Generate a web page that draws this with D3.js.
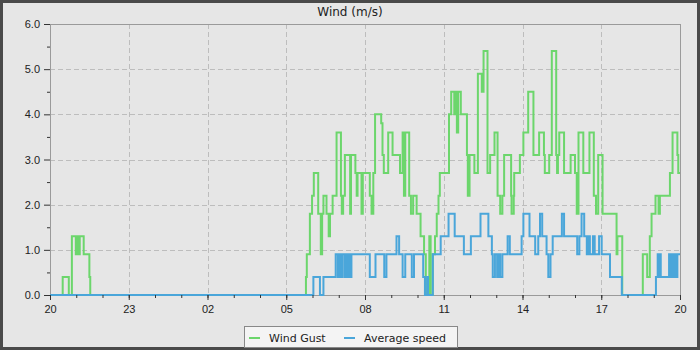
<!DOCTYPE html>
<html>
<head>
<meta charset="utf-8">
<script src="https://cdn.jsdelivr.net/npm/d3@7.9.0/dist/d3.min.js"></script>
<style>
  body { margin: 0; background: #fff; }
  svg { display: block; font-family: 'DejaVu Sans', sans-serif; }
</style>
</head>
<body>
<div id="chart"></div>
<script>
// wind gust, m/s (step values, each holds until the next time)
const gustTimes = [
  '20:00', '20:29', '20:43', '20:50', '20:59', '21:02', '21:04', '21:08', '21:17', '21:30', '21:32',
  '05:45', '05:47', '05:54', '05:59', '06:03', '06:13', '06:19', '06:22', '06:25', '06:32', '06:37',
  '06:40', '06:46', '06:55', '07:05', '07:07', '07:10', '07:14', '07:26', '07:28', '07:38', '07:41',
  '07:43', '07:52', '07:55', '08:11', '08:15', '08:19', '08:23', '08:37', '08:40', '08:43', '08:53',
  '09:03', '09:20', '09:26', '09:29', '09:32', '09:41', '09:45', '09:50', '09:58', '10:07', '10:15',
  '10:19', '10:27', '10:30', '10:35', '10:40', '10:44', '10:48', '10:51', '11:12', '11:17', '11:24',
  '11:26', '11:30', '11:33', '11:39', '11:53', '11:55', '11:59', '12:10', '12:18', '12:27', '12:31',
  '12:40', '12:46', '12:56', '13:03', '13:09', '13:14', '13:18', '13:34', '13:35', '13:40', '13:41',
  '13:54', '14:02', '14:13', '14:25', '14:38', '14:49', '14:51', '15:01', '15:07', '15:17', '15:19',
  '15:21', '15:24', '15:35', '15:50', '16:00', '16:04', '16:08', '16:19', '16:33', '16:43', '16:48',
  '16:53', '17:03', '17:35', '17:37', '17:48', '18:35', '18:45', '18:51', '18:55', '19:04', '19:11',
  '19:14', '19:37', '19:43', '19:54', '19:56'
];
const gustValues = [
  0, 0.4, 0, 1.3, 0.9, 1.3, 0.9, 1.3, 0.9, 0.4, 0,
  0.4, 0.9, 1.8, 2.2, 2.7, 1.8, 0.9, 1.8, 2.2, 1.8, 1.3,
  1.8, 2.2, 3.6, 2.2, 1.8, 2.2, 3.1, 1.8, 3.1, 2.7, 2.2,
  2.7, 1.8, 2.7, 2.2, 1.8, 2.7, 4.0, 3.8, 3.1, 2.7, 3.6,
  3.1, 2.7, 3.6, 2.2, 3.6, 2.2, 1.8, 2.2, 1.8, 1.3, 0.9,
  0, 1.3, 0, 0.9, 1.3, 1.8, 2.2, 2.7, 4.0, 4.5, 4.0,
  4.5, 3.6, 4.5, 4.0, 3.1, 2.2, 3.1, 2.7, 4.9, 4.5, 5.4,
  2.7, 3.1, 3.6, 2.2, 1.8, 2.2, 3.1, 2.2, 1.8, 2.2, 2.7,
  3.1, 3.6, 4.5, 3.1, 3.6, 3.1, 2.7, 3.1, 5.4, 3.1, 2.7,
  3.1, 3.6, 2.7, 3.1, 2.7, 1.8, 3.6, 2.7, 3.6, 2.2, 1.8,
  3.1, 1.8, 0.9, 1.3, 0, 0.9, 0.4, 1.3, 1.8, 2.2, 1.8,
  2.2, 2.7, 3.6, 3.1, 2.7
];

// average speed, m/s
const avgTimes = [
  '20:00', '06:02', '06:17', '06:25', '06:53', '06:58', '07:01', '07:05', '07:09', '07:14', '07:17',
  '07:19', '07:22', '07:26', '07:29', '08:11', '08:24', '08:44', '08:49', '09:12', '09:18', '09:26',
  '09:32', '09:47', '09:52', '10:13', '10:17', '10:22', '10:24', '10:35', '10:53', '11:11', '11:25',
  '11:46', '12:02', '12:24', '12:42', '12:50', '12:52', '12:57', '13:02', '13:06', '13:09', '13:14',
  '13:26', '13:31', '13:58', '14:02', '14:16', '14:29', '14:36', '14:40', '14:45', '14:55', '14:59',
  '15:04', '15:09', '15:30', '15:35', '16:05', '16:10', '16:15', '16:21', '16:27', '16:30', '16:34',
  '16:41', '16:45', '16:55', '17:01', '17:20', '17:47', '19:05', '19:09', '19:12', '19:13', '19:16',
  '19:35', '19:38', '19:42', '19:45', '19:49', '19:51', '19:54'
];
const avgValues = [
  0, 0.4, 0, 0.4, 0.9, 0.4, 0.9, 0.4, 0.9, 0.4, 0.9,
  0.4, 0.9, 0.4, 0.9, 0.4, 0.9, 0.4, 0.9, 1.3, 0.9, 0.4,
  0.9, 0.4, 0.9, 0.4, 0, 0.4, 0, 0.9, 1.3, 1.8, 1.3,
  0.9, 1.3, 1.8, 1.3, 0.9, 0.4, 0.9, 0.4, 0.9, 0.4, 0.9,
  1.3, 0.9, 1.3, 1.8, 1.3, 0.9, 1.3, 1.8, 1.3, 0.9, 0.4,
  0.9, 1.3, 1.8, 1.3, 0.9, 1.3, 1.8, 1.3, 0.9, 1.3, 0.9,
  1.3, 0.9, 1.3, 0.9, 0.4, 0, 0.4, 0.9, 0.4, 0.9, 0.4,
  0.9, 0.4, 0.9, 0.4, 0.9, 0.4, 0.9
];

const yTicks = [0, 1, 2, 3, 4, 5, 6];
const xTickLabels = ['20', '23', '02', '05', '08', '11', '14', '17', '20'];
const title = 'Wind (m/s)';
const seriesNames = ['Wind Gust', 'Average speed'];

const width = 700;
const height = 350;
const margin = { top: 24, right: 20, bottom: 55, left: 50 };

const start = new Date(2024, 0, 1, 20, 0);
const end = new Date(2024, 0, 2, 20, 0);

// times before 20:00 belong to the next day
function toDate(s) {
  const [h, m] = s.split(':').map(Number);
  const d = new Date(2024, 0, 1, h, m);
  if (h < 20) d.setDate(d.getDate() + 1);
  return d;
}

function buildSeries(times, values) {
  const pts = times.map((t, i) => ({ date: toDate(t), value: values[i] }));
  // hold the last value to the right edge
  pts.push({ date: end, value: values[values.length - 1] });
  return pts;
}

const gust = buildSeries(gustTimes, gustValues);
const avg = buildSeries(avgTimes, avgValues);

const svg = d3.select('#chart')
  .append('svg')
  .attr('width', width)
  .attr('height', height);

// frame + background
svg.append('rect')
  .attr('width', width).attr('height', height)
  .attr('fill', '#4a4a4a');
svg.append('rect')
  .attr('x', 3).attr('y', 3)
  .attr('width', width - 6).attr('height', height - 6)
  .attr('fill', '#e6e6e6');

const x = d3.scaleTime()
  .domain([start, end])
  .range([margin.left, width - margin.right]);

const y = d3.scaleLinear()
  .domain([0, 6])
  .range([height - margin.bottom, margin.top]);

const majorX = d3.range(0, 25, 3).map(h => new Date(start.getTime() + h * 3600e3));
const minorX = d3.range(0, 25).map(h => new Date(start.getTime() + h * 3600e3));

// gridlines
const grid = svg.append('g')
  .attr('stroke', '#bdbdbd')
  .attr('stroke-dasharray', '5,3')
  .attr('stroke-width', 1);

grid.selectAll('line.h')
  .data(yTicks.slice(1, -1))
  .join('line')
  .attr('x1', x.range()[0]).attr('x2', x.range()[1])
  .attr('y1', d => Math.round(y(d)) + 0.5)
  .attr('y2', d => Math.round(y(d)) + 0.5);

grid.selectAll('line.v')
  .data(majorX.slice(1, -1))
  .join('line')
  .attr('y1', y.range()[1]).attr('y2', y.range()[0])
  .attr('x1', d => Math.round(x(d)) + 0.5)
  .attr('x2', d => Math.round(x(d)) + 0.5);

// plot border
svg.append('rect')
  .attr('x', x.range()[0] + 0.5)
  .attr('y', y.range()[1] + 0.5)
  .attr('width', x.range()[1] - x.range()[0])
  .attr('height', y.range()[0] - y.range()[1])
  .attr('fill', 'none')
  .attr('stroke', '#9a9a9a');

// lines
const line = d3.line()
  .curve(d3.curveStepAfter)
  .x(d => x(d.date))
  .y(d => y(d.value));

svg.append('path')
  .datum(gust)
  .attr('d', line)
  .attr('fill', 'none')
  .attr('stroke', '#6cd66c')
  .attr('stroke-width', 2);

svg.append('path')
  .datum(avg)
  .attr('d', line)
  .attr('fill', 'none')
  .attr('stroke', '#4aa6da')
  .attr('stroke-width', 2);

// y axis
const yAxis = svg.append('g')
  .attr('transform', `translate(${x.range()[0]},0)`)
  .call(d3.axisLeft(y).tickValues(yTicks).tickFormat(d3.format('.1f')).tickSize(6).tickPadding(4));
yAxis.select('.domain').remove();

svg.append('g')
  .attr('transform', `translate(${x.range()[0]},0)`)
  .call(d3.axisLeft(y).tickValues(d3.range(0.5, 6, 1)).tickFormat('').tickSize(3))
  .select('.domain').remove();

// x axis
const xAxis = svg.append('g')
  .attr('transform', `translate(0,${y.range()[0]})`)
  .call(d3.axisBottom(x).tickValues(majorX).tickFormat((d, i) => xTickLabels[i]).tickSize(5).tickPadding(5));
xAxis.select('.domain').remove();

svg.append('g')
  .attr('transform', `translate(0,${y.range()[0]})`)
  .call(d3.axisBottom(x).tickValues(minorX).tickFormat('').tickSize(3))
  .select('.domain').remove();

svg.selectAll('.tick text')
  .style('font-size', '11px')
  .attr('fill', '#222');
svg.selectAll('.tick line').attr('stroke', '#333');

// title, centred on the whole image
svg.append('text')
  .attr('x', width / 2)
  .attr('y', 16)
  .attr('text-anchor', 'middle')
  .style('font-size', '12px')
  .attr('fill', '#222')
  .text(title);

// legend
const legend = svg.append('g').attr('transform', 'translate(244,326)');
legend.append('rect')
  .attr('x', 0.5).attr('y', 0.5)
  .attr('width', 213).attr('height', 21)
  .attr('fill', '#f4f4f4')
  .attr('stroke', '#888');

const colors = ['#6cd66c', '#4aa6da'];
const offsets = [5, 100];
seriesNames.forEach((name, i) => {
  legend.append('line')
    .attr('x1', offsets[i]).attr('x2', offsets[i] + 11)
    .attr('y1', 12).attr('y2', 12)
    .attr('stroke', colors[i])
    .attr('stroke-width', 2);
  legend.append('text')
    .attr('x', offsets[i] + 20)
    .attr('y', 15.5)
    .style('font-size', '11px')
    .attr('fill', '#222')
    .text(name);
});
</script>
</body>
</html>
